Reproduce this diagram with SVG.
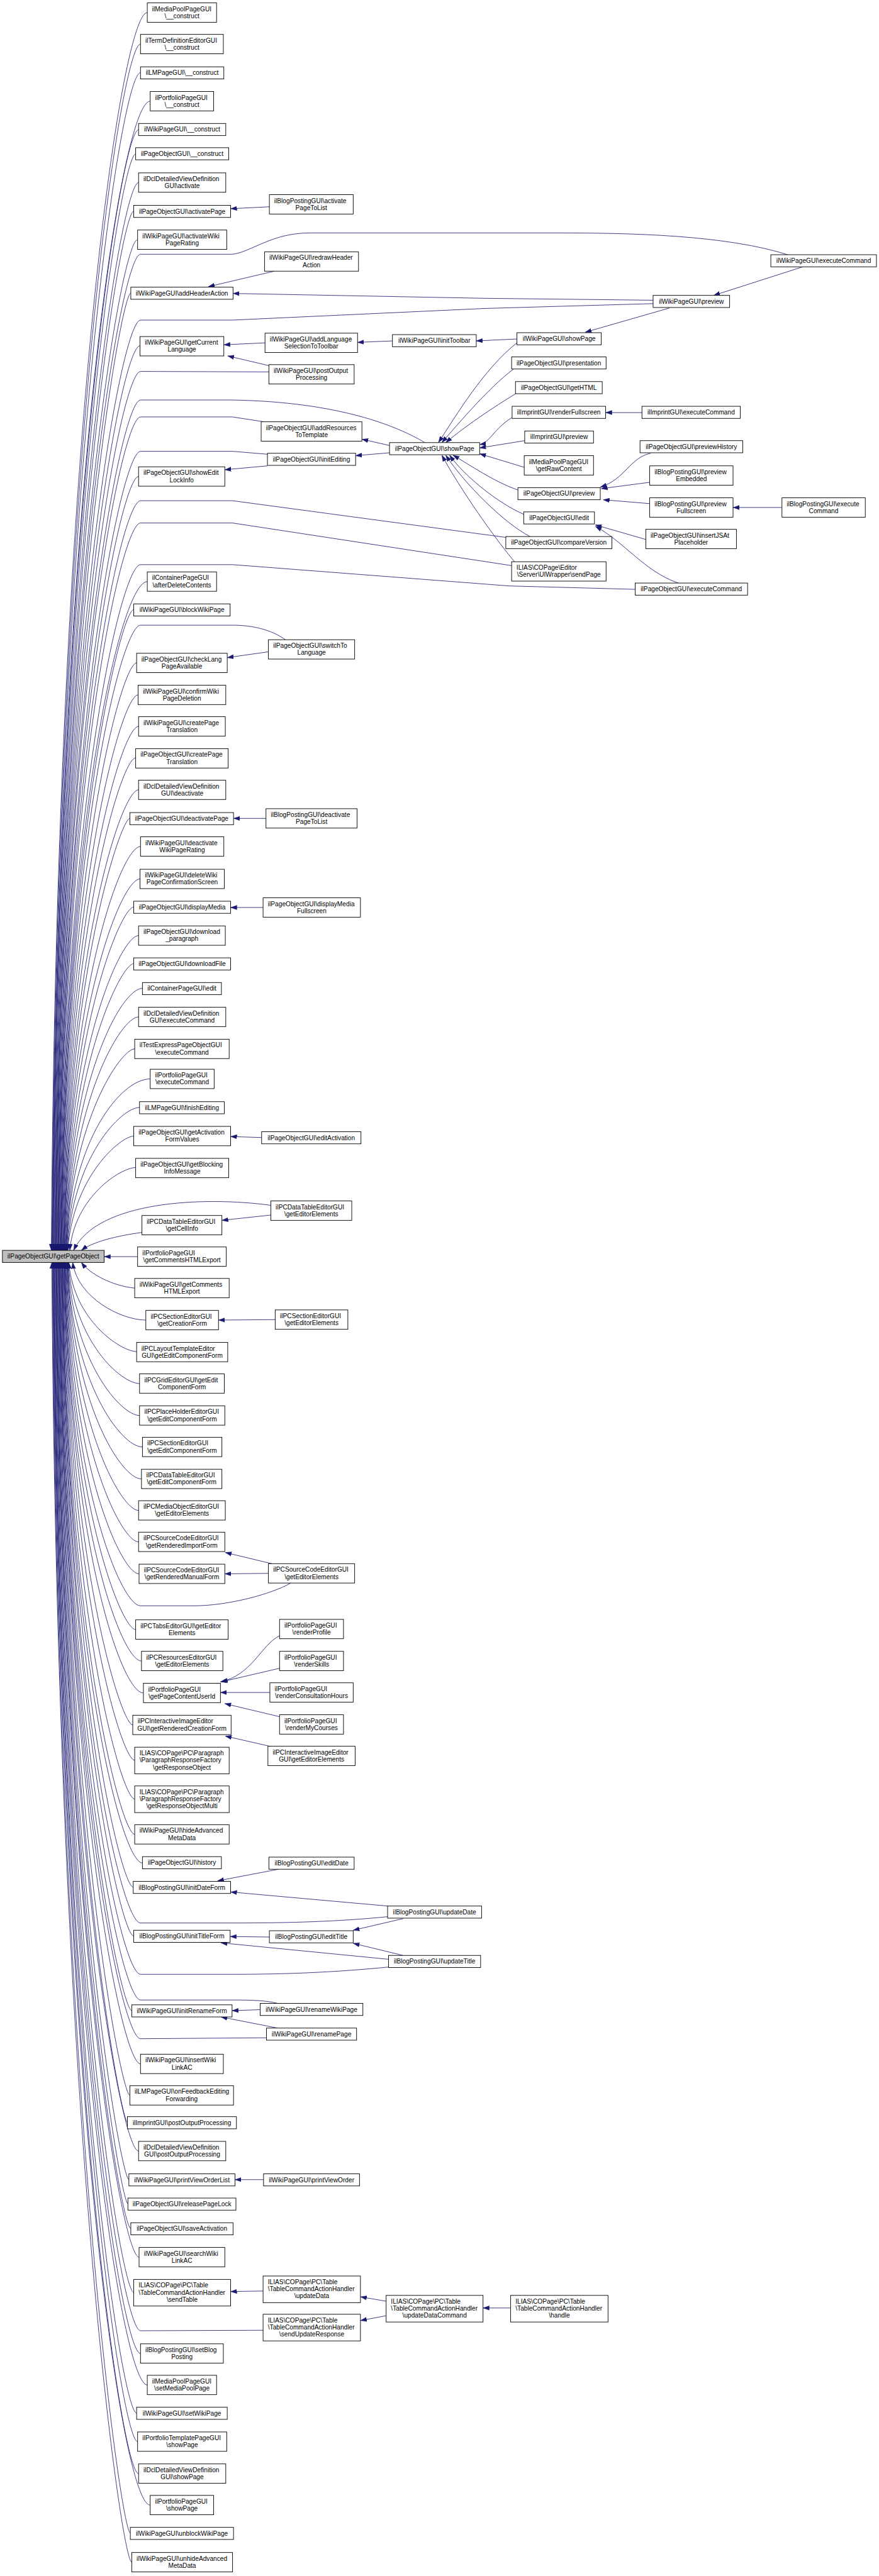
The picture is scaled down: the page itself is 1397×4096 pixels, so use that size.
<svg xmlns="http://www.w3.org/2000/svg" width="1397" height="4096" viewBox="0 0 1397 4096">
<style>
.n rect{fill:#fff;stroke:#000;stroke-width:1.2}
.r rect{fill:#bfbfbf;stroke:#000;stroke-width:1.2}
text{font-family:"Liberation Sans",Arial,Helvetica,sans-serif;font-size:13.2px;fill:#000}
.m{text-anchor:middle}
#edges path{fill:none;stroke:#191970;stroke-width:1.1;marker-end:url(#ah)}
</style>
<defs>
<marker id="ah" markerUnits="userSpaceOnUse" markerWidth="13" markerHeight="10" refX="13" refY="5" orient="auto" viewBox="0 0 13 10"><path d="M0,0.5 L13,5 L0,9.5 z" fill="#191970" stroke="#191970" stroke-width="0.5"/></marker>
</defs>
<rect x="0" y="0" width="1397" height="4096" fill="#fff"/>
<g transform="scale(0.77)">
<g id="edges">
<path d="M304,26 C250,26 116,921 106,2582"/>
<path d="M290,91 C250,91 117,963 107,2582"/>
<path d="M290,150 C250,150 118,1001 108,2582"/>
<path d="M310,209 C250,209 119,1040 109,2582"/>
<path d="M286,268 C250,268 119,1078 109,2582"/>
<path d="M280,318 C250,318 120,1110 110,2582"/>
<path d="M286,377 C250,377 121,1149 111,2582"/>
<path d="M276,436 C250,436 122,1187 112,2582"/>
<path d="M284,495 C250,495 123,1225 113,2582"/>
<path d="M1629,527 C1500,485 1300,481 1150,481 L640,481 C560,481 520,520 480,525 L290,525 C250,525 124,1245 114,2582"/>
<path d="M270,605 C250,605 125,1297 115,2582"/>
<path d="M1348,627 L1000,637 L480,661 L290,661 C250,661 125,1333 115,2582"/>
<path d="M289,714 C250,714 126,1368 116,2582"/>
<path d="M555,768 L290,767 C250,767 127,1402 117,2582"/>
<path d="M877,914 C820,880 700,830 480,826 L290,826 C250,826 128,1441 118,2582"/>
<path d="M545,871 L480,861 L290,861 C250,861 129,1463 119,2582"/>
<path d="M552,938 L480,932 L290,932 C250,932 130,1510 120,2582"/>
<path d="M286,984 C250,984 130,1543 120,2582"/>
<path d="M1046,1110 L480,1034 L290,1034 C250,1034 131,1576 121,2582"/>
<path d="M1056,1168 L480,1080 L290,1080 C250,1080 132,1606 122,2582"/>
<path d="M1311,1217 L1051,1210 L480,1166 L290,1166 C250,1166 133,1662 123,2582"/>
<path d="M304,1201 C250,1201 134,1684 124,2582"/>
<path d="M276,1259 C250,1259 135,1722 125,2582"/>
<path d="M589,1321 C560,1300 520,1291 480,1291 L290,1291 C250,1291 136,1743 126,2582"/>
<path d="M282,1369 C250,1369 136,1794 126,2582"/>
<path d="M285,1435 C250,1435 137,1836 127,2582"/>
<path d="M286,1500 C250,1500 138,1879 128,2582"/>
<path d="M280,1565 C250,1565 139,1921 129,2582"/>
<path d="M286,1631 C250,1631 140,1964 130,2582"/>
<path d="M268,1690 C250,1690 141,2002 131,2582"/>
<path d="M290,1748 C250,1748 142,2040 132,2582"/>
<path d="M289,1815 C250,1815 142,2083 132,2582"/>
<path d="M276,1873 C250,1873 143,2121 133,2582"/>
<path d="M286,1932 C250,1932 144,2160 134,2582"/>
<path d="M276,1990 C250,1990 145,2197 135,2582"/>
<path d="M294,2041 C250,2041 146,2230 136,2582"/>
<path d="M286,2100 C250,2100 147,2269 137,2582"/>
<path d="M278,2166 C250,2166 147,2312 137,2582"/>
<path d="M310,2228 C250,2228 148,2352 138,2582"/>
<path d="M288,2287 C250,2287 149,2390 139,2582"/>
<path d="M276,2346 C250,2346 150,2429 140,2582"/>
<path d="M280,2411 C250,2411 154,2471 144,2582"/>
<path d="M559,2489 C420,2470 200,2480 152,2582"/>
<path d="M293,2545 C240,2552 190,2565 168,2582"/>
<path d="M284,2595 L215,2595"/>
<path d="M278,2660 C230,2655 185,2630 168,2607"/>
<path d="M301,2726 C250,2726 160,2680 150,2607"/>
<path d="M282,2791 C250,2791 152,2727 142,2607"/>
<path d="M288,2857 C250,2857 151,2770 141,2607"/>
<path d="M288,2923 C250,2923 150,2812 140,2607"/>
<path d="M294,2988 C250,2988 149,2855 139,2607"/>
<path d="M292,3054 C250,3054 149,2898 139,2607"/>
<path d="M286,3119 C250,3119 148,2940 138,2607"/>
<path d="M286,3184 C250,3184 147,2982 137,2607"/>
<path d="M287,3250 C250,3250 146,3025 136,2607"/>
<path d="M600,3269 C560,3292 470,3316 400,3316 L290,3316 C250,3316 145,3068 135,2607"/>
<path d="M280,3365 C250,3365 144,3100 134,2607"/>
<path d="M292,3430 C250,3430 143,3142 133,2607"/>
<path d="M296,3496 C250,3496 143,3185 133,2607"/>
<path d="M274,3562 C250,3562 142,3228 132,2607"/>
<path d="M278,3635 C250,3635 141,3275 131,2607"/>
<path d="M278,3715 C250,3715 140,3327 130,2607"/>
<path d="M278,3788 C250,3788 139,3375 129,2607"/>
<path d="M294,3847 C250,3847 138,3413 128,2607"/>
<path d="M275,3897 C250,3897 138,3446 128,2607"/>
<path d="M800,3958 C700,3968 600,3971 480,3971 L290,3971 C250,3971 137,3494 127,2607"/>
<path d="M276,3998 C250,3998 136,3511 126,2607"/>
<path d="M802,4062 C700,4072 600,4077 480,4077 L290,4077 C250,4077 135,3563 125,2607"/>
<path d="M573,4137 C550,4131 520,4130 480,4130 L290,4130 C250,4130 134,3597 124,2607"/>
<path d="M272,4152 C250,4152 133,3611 123,2607"/>
<path d="M550,4208 L290,4210 C250,4210 132,3649 122,2607"/>
<path d="M290,4262 C250,4262 132,3683 122,2607"/>
<path d="M268,4327 C250,4327 131,3725 121,2607"/>
<path d="M263,4383 C250,4383 130,3761 120,2607"/>
<path d="M286,4442 C250,4442 129,3800 119,2607"/>
<path d="M266,4501 C250,4501 128,3838 118,2607"/>
<path d="M264,4551 C250,4551 127,3871 117,2607"/>
<path d="M270,4602 C250,4602 126,3904 116,2607"/>
<path d="M287,4661 C250,4661 126,3942 116,2607"/>
<path d="M276,4734 C250,4734 125,3990 115,2607"/>
<path d="M543,4812 L290,4813 C250,4813 124,4041 114,2607"/>
<path d="M290,4860 C250,4860 123,4071 113,2607"/>
<path d="M304,4925 C250,4925 122,4114 112,2607"/>
<path d="M282,4983 C250,4983 121,4151 111,2607"/>
<path d="M284,5042 C250,5042 121,4190 111,2607"/>
<path d="M286,5108 C250,5108 120,4233 110,2607"/>
<path d="M310,5173 C250,5173 119,4275 109,2607"/>
<path d="M269,5231 C250,5231 118,4313 108,2607"/>
<path d="M272,5291 C250,5291 117,4352 107,2607"/>
<path d="M556,427 L476,431"/>
<path d="M566,560 L430,592"/>
<path d="M1348,620 L1000,616 L481,606"/>
<path d="M547,708 L462,712"/>
<path d="M555,755 L470,735"/>
<path d="M810,704 L738,707"/>
<path d="M1067,700 L983,704"/>
<path d="M1382,636 L1208,686"/>
<path d="M1657,551 L1473,610"/>
<path d="M1325,852 L1250,852"/>
<path d="M1343,936 C1300,945 1290,990 1239,1006"/>
<path d="M1341,996 L1241,1009"/>
<path d="M1341,1040 L1245,1032"/>
<path d="M1614,1048 L1513,1048"/>
<path d="M1333,1114 L1229,1084"/>
<path d="M1400,1204 C1330,1180 1290,1120 1229,1087"/>
<path d="M804,920 L747,907"/>
<path d="M804,935 L734,941"/>
<path d="M552,962 L464,970"/>
<path d="M554,1346 L469,1358"/>
<path d="M549,1690 L482,1690"/>
<path d="M543,1874 L476,1874"/>
<path d="M540,2349 L476,2347"/>
<path d="M560,2509 L458,2520"/>
<path d="M568,2725 L451,2726"/>
<path d="M561,3229 L465,3206"/>
<path d="M554,3249 L464,3250"/>
<path d="M577,3378 C540,3395 520,3460 455,3473"/>
<path d="M577,3445 L457,3473"/>
<path d="M557,3495 L455,3495"/>
<path d="M577,3545 L464,3518"/>
<path d="M561,3607 L465,3585"/>
<path d="M575,3860 L449,3884"/>
<path d="M800,3936 L476,3907"/>
<path d="M832,3962 L729,3986"/>
<path d="M556,4000 L475,3999"/>
<path d="M832,4038 L729,4013"/>
<path d="M802,4046 L456,4012"/>
<path d="M537,4150 L479,4152"/>
<path d="M573,4188 L456,4165"/>
<path d="M544,4501 L485,4501"/>
<path d="M543,4731 L476,4732"/>
<path d="M797,4752 L744,4743"/>
<path d="M797,4782 L744,4792"/>
<path d="M1054,4766 L997,4766"/>
<path d="M1067,708 C1000,760 940,860 905,914"/>
<path d="M1060,762 C1010,800 950,870 912,914"/>
<path d="M1066,812 C1020,840 960,880 920,914"/>
<path d="M1057,862 C1020,885 1010,915 990,918"/>
<path d="M1083,910 L990,925"/>
<path d="M1082,965 L990,937"/>
<path d="M1069,1012 C1020,995 970,960 935,940"/>
<path d="M1081,1062 C1030,1040 960,985 928,940"/>
<path d="M1094,1108 C1040,1080 960,1000 920,940"/>
<path d="M1062,1160 C1020,1110 950,1010 912,940"/>
</g>
<g id="root" class="r"><rect x="5" y="2582" width="210" height="25"/><text class="m" x="110" y="2599">ilPageObjectGUI\getPageObject</text></g>
<g id="n1" class="n"><rect x="304" y="6" width="143" height="40"/><text x="314" y="23">ilMediaPoolPageGUI</text><text class="m" x="375.5" y="37.5">\__construct</text></g>
<g id="n2" class="n"><rect x="290" y="71" width="171" height="40"/><text x="300" y="88">ilTermDefinitionEditorGUI</text><text class="m" x="375.5" y="102.5">\__construct</text></g>
<g id="n3" class="n"><rect x="290" y="138" width="172" height="25"/><text class="m" x="376" y="155">ilLMPageGUI\__construct</text></g>
<g id="n4" class="n"><rect x="310" y="189" width="131" height="40"/><text x="320" y="206">ilPortfolioPageGUI</text><text class="m" x="375.5" y="220.5">\__construct</text></g>
<g id="n5" class="n"><rect x="286" y="255" width="180" height="25"/><text class="m" x="376" y="272">ilWikiPageGUI\__construct</text></g>
<g id="n6" class="n"><rect x="280" y="305" width="192" height="25"/><text class="m" x="376" y="322">ilPageObjectGUI\__construct</text></g>
<g id="n7" class="n"><rect x="286" y="357" width="180" height="40"/><text x="296" y="374">ilDclDetailedViewDefinition</text><text class="m" x="376" y="388.5">GUI\activate</text></g>
<g id="n8" class="n"><rect x="276" y="424" width="200" height="25"/><text class="m" x="376" y="441">ilPageObjectGUI\activatePage</text></g>
<g id="n9" class="n"><rect x="284" y="475" width="184" height="40"/><text x="294" y="492">ilWikiPageGUI\activateWiki</text><text class="m" x="376" y="506.5">PageRating</text></g>
<g id="n10" class="n"><rect x="270" y="593" width="211" height="25"/><text class="m" x="375.5" y="610">ilWikiPageGUI\addHeaderAction</text></g>
<g id="n11" class="n"><rect x="289" y="695" width="173" height="40"/><text x="299" y="712">ilWikiPageGUI\getCurrent</text><text class="m" x="375.5" y="726.5">Language</text></g>
<g id="n12" class="n"><rect x="286" y="964" width="178" height="40"/><text x="296" y="981">ilPageObjectGUI\showEdit</text><text class="m" x="375" y="995.5">LockInfo</text></g>
<g id="n13" class="n"><rect x="304" y="1181" width="143" height="40"/><text x="314" y="1198">ilContainerPageGUI</text><text class="m" x="375.5" y="1212.5">\afterDeleteContents</text></g>
<g id="n14" class="n"><rect x="276" y="1247" width="199" height="25"/><text class="m" x="375.5" y="1264">ilWikiPageGUI\blockWikiPage</text></g>
<g id="n15" class="n"><rect x="282" y="1349" width="187" height="40"/><text x="292" y="1366">ilPageObjectGUI\checkLang</text><text class="m" x="375.5" y="1380.5">PageAvailable</text></g>
<g id="n16" class="n"><rect x="285" y="1415" width="181" height="40"/><text x="295" y="1432">ilWikiPageGUI\confirmWiki</text><text class="m" x="375.5" y="1446.5">PageDeletion</text></g>
<g id="n17" class="n"><rect x="286" y="1480" width="179" height="40"/><text x="296" y="1497">ilWikiPageGUI\createPage</text><text class="m" x="375.5" y="1511.5">Translation</text></g>
<g id="n18" class="n"><rect x="280" y="1546" width="191" height="40"/><text x="290" y="1563">ilPageObjectGUI\createPage</text><text class="m" x="375.5" y="1577.5">Translation</text></g>
<g id="n19" class="n"><rect x="286" y="1611" width="180" height="40"/><text x="296" y="1628">ilDclDetailedViewDefinition</text><text class="m" x="376" y="1642.5">GUI\deactivate</text></g>
<g id="n20" class="n"><rect x="268" y="1678" width="214" height="25"/><text class="m" x="375" y="1695">ilPageObjectGUI\deactivatePage</text></g>
<g id="n21" class="n"><rect x="290" y="1728" width="172" height="40"/><text x="300" y="1745">ilWikiPageGUI\deactivate</text><text class="m" x="376" y="1759.5">WikiPageRating</text></g>
<g id="n22" class="n"><rect x="289" y="1795" width="174" height="40"/><text x="299" y="1812">ilWikiPageGUI\deleteWiki</text><text class="m" x="376" y="1826.5">PageConfirmationScreen</text></g>
<g id="n23" class="n"><rect x="276" y="1861" width="200" height="25"/><text class="m" x="376" y="1878">ilPageObjectGUI\displayMedia</text></g>
<g id="n24" class="n"><rect x="286" y="1912" width="179" height="40"/><text x="296" y="1929">ilPageObjectGUI\download</text><text class="m" x="375.5" y="1943.5">_paragraph</text></g>
<g id="n25" class="n"><rect x="276" y="1978" width="200" height="25"/><text class="m" x="376" y="1995">ilPageObjectGUI\downloadFile</text></g>
<g id="n26" class="n"><rect x="294" y="2029" width="163" height="25"/><text class="m" x="375.5" y="2046">ilContainerPageGUI\edit</text></g>
<g id="n27" class="n"><rect x="286" y="2080" width="180" height="40"/><text x="296" y="2097">ilDclDetailedViewDefinition</text><text class="m" x="376" y="2111.5">GUI\executeCommand</text></g>
<g id="n28" class="n"><rect x="278" y="2146" width="195" height="40"/><text x="288" y="2163">ilTestExpressPageObjectGUI</text><text class="m" x="375.5" y="2177.5">\executeCommand</text></g>
<g id="n29" class="n"><rect x="310" y="2208" width="132" height="40"/><text x="320" y="2225">ilPortfolioPageGUI</text><text class="m" x="376" y="2239.5">\executeCommand</text></g>
<g id="n30" class="n"><rect x="288" y="2275" width="175" height="25"/><text class="m" x="375.5" y="2292">ilLMPageGUI\finishEditing</text></g>
<g id="n31" class="n"><rect x="276" y="2326" width="200" height="40"/><text x="286" y="2343">ilPageObjectGUI\getActivation</text><text class="m" x="376" y="2357.5">FormValues</text></g>
<g id="n32" class="n"><rect x="280" y="2392" width="192" height="40"/><text x="290" y="2409">ilPageObjectGUI\getBlocking</text><text class="m" x="376" y="2423.5">InfoMessage</text></g>
<g id="n33" class="n"><rect x="293" y="2510" width="165" height="40"/><text x="303" y="2527">ilPCDataTableEditorGUI</text><text class="m" x="375.5" y="2541.5">\getCellInfo</text></g>
<g id="n34" class="n"><rect x="284" y="2575" width="183" height="40"/><text x="294" y="2592">ilPortfolioPageGUI</text><text class="m" x="375.5" y="2606.5">\getCommentsHTMLExport</text></g>
<g id="n35" class="n"><rect x="278" y="2640" width="195" height="40"/><text x="288" y="2657">ilWikiPageGUI\getComments</text><text class="m" x="375.5" y="2671.5">HTMLExport</text></g>
<g id="n36" class="n"><rect x="301" y="2706" width="150" height="40"/><text x="311" y="2723">ilPCSectionEditorGUI</text><text class="m" x="376" y="2737.5">\getCreationForm</text></g>
<g id="n37" class="n"><rect x="282" y="2772" width="188" height="40"/><text x="292" y="2789">ilPCLayoutTemplateEditor</text><text class="m" x="376" y="2803.5">GUI\getEditComponentForm</text></g>
<g id="n38" class="n"><rect x="288" y="2837" width="175" height="40"/><text x="298" y="2854">ilPCGridEditorGUI\getEdit</text><text class="m" x="375.5" y="2868.5">ComponentForm</text></g>
<g id="n39" class="n"><rect x="288" y="2903" width="176" height="40"/><text x="298" y="2920">ilPCPlaceHolderEditorGUI</text><text class="m" x="376" y="2934.5">\getEditComponentForm</text></g>
<g id="n40" class="n"><rect x="294" y="2968" width="164" height="40"/><text x="304" y="2985">ilPCSectionEditorGUI</text><text class="m" x="376" y="2999.5">\getEditComponentForm</text></g>
<g id="n41" class="n"><rect x="292" y="3034" width="166" height="40"/><text x="302" y="3051">ilPCDataTableEditorGUI</text><text class="m" x="375" y="3065.5">\getEditComponentForm</text></g>
<g id="n42" class="n"><rect x="286" y="3099" width="179" height="40"/><text x="296" y="3116">ilPCMediaObjectEditorGUI</text><text class="m" x="375.5" y="3130.5">\getEditorElements</text></g>
<g id="n43" class="n"><rect x="286" y="3164" width="178" height="40"/><text x="296" y="3181">ilPCSourceCodeEditorGUI</text><text class="m" x="375" y="3195.5">\getRenderedImportForm</text></g>
<g id="n44" class="n"><rect x="287" y="3230" width="177" height="40"/><text x="297" y="3247">ilPCSourceCodeEditorGUI</text><text class="m" x="375.5" y="3261.5">\getRenderedManualForm</text></g>
<g id="n45" class="n"><rect x="280" y="3345" width="191" height="40"/><text x="290" y="3362">ilPCTabsEditorGUI\getEditor</text><text class="m" x="375.5" y="3376.5">Elements</text></g>
<g id="n46" class="n"><rect x="292" y="3410" width="168" height="40"/><text x="302" y="3427">ilPCResourcesEditorGUI</text><text class="m" x="376" y="3441.5">\getEditorElements</text></g>
<g id="n47" class="n"><rect x="296" y="3476" width="159" height="40"/><text x="306" y="3493">ilPortfolioPageGUI</text><text class="m" x="375.5" y="3507.5">\getPageContentUserId</text></g>
<g id="n48" class="n"><rect x="274" y="3542" width="203" height="40"/><text x="284" y="3559">ilPCInteractiveImageEditor</text><text class="m" x="375.5" y="3573.5">GUI\getRenderedCreationForm</text></g>
<g id="n49" class="n"><rect x="278" y="3608" width="195" height="55"/><text x="288" y="3625">ILIAS\COPage\PC\Paragraph</text><text x="288" y="3639.5">\ParagraphResponseFactory</text><text class="m" x="375.5" y="3654">\getResponseObject</text></g>
<g id="n50" class="n"><rect x="278" y="3688" width="195" height="55"/><text x="288" y="3705">ILIAS\COPage\PC\Paragraph</text><text x="288" y="3719.5">\ParagraphResponseFactory</text><text class="m" x="375.5" y="3734">\getResponseObjectMulti</text></g>
<g id="n51" class="n"><rect x="278" y="3768" width="195" height="40"/><text x="288" y="3785">ilWikiPageGUI\hideAdvanced</text><text class="m" x="375.5" y="3799.5">MetaData</text></g>
<g id="n52" class="n"><rect x="294" y="3834" width="163" height="25"/><text class="m" x="375.5" y="3851">ilPageObjectGUI\history</text></g>
<g id="n53" class="n"><rect x="275" y="3885" width="201" height="25"/><text class="m" x="375.5" y="3902">ilBlogPostingGUI\initDateForm</text></g>
<g id="n54" class="n"><rect x="276" y="3986" width="199" height="25"/><text class="m" x="375.5" y="4003">ilBlogPostingGUI\initTitleForm</text></g>
<g id="n55" class="n"><rect x="272" y="4140" width="207" height="25"/><text class="m" x="375.5" y="4157">ilWikiPageGUI\initRenameForm</text></g>
<g id="n56" class="n"><rect x="290" y="4242" width="171" height="40"/><text x="300" y="4259">ilWikiPageGUI\insertWiki</text><text class="m" x="375.5" y="4273.5">LinkAC</text></g>
<g id="n57" class="n"><rect x="268" y="4307" width="214" height="40"/><text x="278" y="4324">ilLMPageGUI\onFeedbackEditing</text><text class="m" x="375" y="4338.5">Forwarding</text></g>
<g id="n58" class="n"><rect x="263" y="4371" width="225" height="25"/><text class="m" x="375.5" y="4388">ilImprintGUI\postOutputProcessing</text></g>
<g id="n59" class="n"><rect x="286" y="4422" width="180" height="40"/><text x="296" y="4439">ilDclDetailedViewDefinition</text><text class="m" x="376" y="4453.5">GUI\postOutputProcessing</text></g>
<g id="n60" class="n"><rect x="266" y="4489" width="219" height="25"/><text class="m" x="375.5" y="4506">ilWikiPageGUI\printViewOrderList</text></g>
<g id="n61" class="n"><rect x="264" y="4539" width="223" height="25"/><text class="m" x="375.5" y="4556">ilPageObjectGUI\releasePageLock</text></g>
<g id="n62" class="n"><rect x="270" y="4590" width="211" height="25"/><text class="m" x="375.5" y="4607">ilPageObjectGUI\saveActivation</text></g>
<g id="n63" class="n"><rect x="287" y="4641" width="177" height="40"/><text x="297" y="4658">ilWikiPageGUI\searchWiki</text><text class="m" x="375.5" y="4672.5">LinkAC</text></g>
<g id="n64" class="n"><rect x="276" y="4707" width="200" height="55"/><text x="286" y="4724">ILIAS\COPage\PC\Table</text><text x="286" y="4738.5">\TableCommandActionHandler</text><text class="m" x="376" y="4753">\sendTable</text></g>
<g id="n65" class="n"><rect x="290" y="4840" width="171" height="40"/><text x="300" y="4857">ilBlogPostingGUI\setBlog</text><text class="m" x="375.5" y="4871.5">Posting</text></g>
<g id="n66" class="n"><rect x="304" y="4905" width="143" height="40"/><text x="314" y="4922">ilMediaPoolPageGUI</text><text class="m" x="375.5" y="4936.5">\setMediaPoolPage</text></g>
<g id="n67" class="n"><rect x="282" y="4971" width="187" height="25"/><text class="m" x="375.5" y="4988">ilWikiPageGUI\setWikiPage</text></g>
<g id="n68" class="n"><rect x="284" y="5022" width="184" height="40"/><text x="294" y="5039">ilPortfolioTemplatePageGUI</text><text class="m" x="376" y="5053.5">\showPage</text></g>
<g id="n69" class="n"><rect x="286" y="5088" width="180" height="40"/><text x="296" y="5105">ilDclDetailedViewDefinition</text><text class="m" x="376" y="5119.5">GUI\showPage</text></g>
<g id="n70" class="n"><rect x="310" y="5153" width="131" height="40"/><text x="320" y="5170">ilPortfolioPageGUI</text><text class="m" x="375.5" y="5184.5">\showPage</text></g>
<g id="n71" class="n"><rect x="269" y="5219" width="213" height="25"/><text class="m" x="375.5" y="5236">ilWikiPageGUI\unblockWikiPage</text></g>
<g id="n72" class="n"><rect x="272" y="5271" width="208" height="40"/><text x="282" y="5288">ilWikiPageGUI\unhideAdvanced</text><text class="m" x="376" y="5302.5">MetaData</text></g>
<g id="c2a" class="n"><rect x="556" y="402" width="173" height="40"/><text x="566" y="419">ilBlogPostingGUI\activate</text><text class="m" x="642.5" y="433.5">PageToList</text></g>
<g id="c2b" class="n"><rect x="546" y="520" width="194" height="40"/><text x="556" y="537">ilWikiPageGUI\redrawHeader</text><text class="m" x="643" y="551.5">Action</text></g>
<g id="c2c" class="n"><rect x="547" y="688" width="191" height="40"/><text x="557" y="705">ilWikiPageGUI\addLanguage</text><text class="m" x="642.5" y="719.5">SelectionToToolbar</text></g>
<g id="c2d" class="n"><rect x="555" y="753" width="176" height="40"/><text x="565" y="770">ilWikiPageGUI\postOutput</text><text class="m" x="643" y="784.5">Processing</text></g>
<g id="c2e" class="n"><rect x="539" y="871" width="208" height="40"/><text x="549" y="888">ilPageObjectGUI\addResources</text><text class="m" x="643" y="902.5">ToTemplate</text></g>
<g id="c2f" class="n"><rect x="552" y="936" width="182" height="25"/><text class="m" x="643" y="953">ilPageObjectGUI\initEditing</text></g>
<g id="c2g" class="n"><rect x="554" y="1321" width="178" height="40"/><text x="564" y="1338">ilPageObjectGUI\switchTo</text><text class="m" x="643" y="1352.5">Language</text></g>
<g id="c2h" class="n"><rect x="549" y="1670" width="188" height="40"/><text x="559" y="1687">ilBlogPostingGUI\deactivate</text><text class="m" x="643" y="1701.5">PageToList</text></g>
<g id="c2i" class="n"><rect x="543" y="1854" width="201" height="40"/><text x="553" y="1871">ilPageObjectGUI\displayMedia</text><text class="m" x="643.5" y="1885.5">Fullscreen</text></g>
<g id="c2j" class="n"><rect x="540" y="2337" width="205" height="25"/><text class="m" x="642.5" y="2354">ilPageObjectGUI\editActivation</text></g>
<g id="c2k" class="n"><rect x="559" y="2480" width="167" height="40"/><text x="569" y="2497">ilPCDataTableEditorGUI</text><text class="m" x="642.5" y="2511.5">\getEditorElements</text></g>
<g id="c2l" class="n"><rect x="568" y="2705" width="150" height="40"/><text x="578" y="2722">ilPCSectionEditorGUI</text><text class="m" x="643" y="2736.5">\getEditorElements</text></g>
<g id="c2m" class="n"><rect x="554" y="3229" width="178" height="40"/><text x="564" y="3246">ilPCSourceCodeEditorGUI</text><text class="m" x="643" y="3260.5">\getEditorElements</text></g>
<g id="c2n" class="n"><rect x="577" y="3344" width="132" height="40"/><text x="587" y="3361">ilPortfolioPageGUI</text><text class="m" x="643" y="3375.5">\renderProfile</text></g>
<g id="c2o" class="n"><rect x="577" y="3410" width="132" height="40"/><text x="587" y="3427">ilPortfolioPageGUI</text><text class="m" x="643" y="3441.5">\renderSkills</text></g>
<g id="c2p" class="n"><rect x="557" y="3475" width="172" height="40"/><text x="567" y="3492">ilPortfolioPageGUI</text><text class="m" x="643" y="3506.5">\renderConsultationHours</text></g>
<g id="c2q" class="n"><rect x="577" y="3541" width="132" height="40"/><text x="587" y="3558">ilPortfolioPageGUI</text><text class="m" x="643" y="3572.5">\renderMyCourses</text></g>
<g id="c2r" class="n"><rect x="553" y="3606" width="180" height="40"/><text x="563" y="3623">ilPCInteractiveImageEditor</text><text class="m" x="643" y="3637.5">GUI\getEditorElements</text></g>
<g id="c2s" class="n"><rect x="555" y="3835" width="176" height="25"/><text class="m" x="643" y="3852">ilBlogPostingGUI\editDate</text></g>
<g id="c2t" class="n"><rect x="556" y="3987" width="173" height="25"/><text class="m" x="642.5" y="4004">ilBlogPostingGUI\editTitle</text></g>
<g id="c2u" class="n"><rect x="537" y="4137" width="212" height="25"/><text class="m" x="643" y="4154">ilWikiPageGUI\renameWikiPage</text></g>
<g id="c2v" class="n"><rect x="550" y="4188" width="186" height="25"/><text class="m" x="643" y="4205">ilWikiPageGUI\renamePage</text></g>
<g id="c2w" class="n"><rect x="544" y="4489" width="198" height="25"/><text class="m" x="643" y="4506">ilWikiPageGUI\printViewOrder</text></g>
<g id="c2x" class="n"><rect x="543" y="4700" width="201" height="55"/><text x="553" y="4717">ILIAS\COPage\PC\Table</text><text x="553" y="4731.5">\TableCommandActionHandler</text><text class="m" x="643.5" y="4746">\updateData</text></g>
<g id="c2y" class="n"><rect x="543" y="4779" width="201" height="55"/><text x="553" y="4796">ILIAS\COPage\PC\Table</text><text x="553" y="4810.5">\TableCommandActionHandler</text><text class="m" x="643.5" y="4825">\sendUpdateResponse</text></g>
<g id="c3a" class="n"><rect x="810" y="691" width="173" height="25"/><text class="m" x="896.5" y="708">ilWikiPageGUI\initToolbar</text></g>
<g id="c3b" class="n"><rect x="804" y="914" width="186" height="25"/><text class="m" x="897" y="931">ilPageObjectGUI\showPage</text></g>
<g id="c3c" class="n"><rect x="800" y="3936" width="194" height="25"/><text class="m" x="897" y="3953">ilBlogPostingGUI\updateDate</text></g>
<g id="c3d" class="n"><rect x="802" y="4038" width="190" height="25"/><text class="m" x="897" y="4055">ilBlogPostingGUI\updateTitle</text></g>
<g id="c3e" class="n"><rect x="797" y="4740" width="200" height="55"/><text x="807" y="4757">ILIAS\COPage\PC\Table</text><text x="807" y="4771.5">\TableCommandActionHandler</text><text class="m" x="897" y="4786">\updateDataCommand</text></g>
<g id="c4a" class="n"><rect x="1067" y="687" width="174" height="25"/><text class="m" x="1154" y="704">ilWikiPageGUI\showPage</text></g>
<g id="c4b" class="n"><rect x="1056" y="737" width="195" height="25"/><text class="m" x="1153.5" y="754">ilPageObjectGUI\presentation</text></g>
<g id="c4c" class="n"><rect x="1064" y="788" width="179" height="25"/><text class="m" x="1153.5" y="805">ilPageObjectGUI\getHTML</text></g>
<g id="c4d" class="n"><rect x="1057" y="839" width="193" height="25"/><text class="m" x="1153.5" y="856">ilImprintGUI\renderFullscreen</text></g>
<g id="c4e" class="n"><rect x="1083" y="890" width="142" height="25"/><text class="m" x="1154" y="907">ilImprintGUI\preview</text></g>
<g id="c4f" class="n"><rect x="1082" y="941" width="143" height="40"/><text x="1092" y="958">ilMediaPoolPageGUI</text><text class="m" x="1153.5" y="972.5">\getRawContent</text></g>
<g id="c4g" class="n"><rect x="1069" y="1007" width="170" height="25"/><text class="m" x="1154" y="1024">ilPageObjectGUI\preview</text></g>
<g id="c4h" class="n"><rect x="1081" y="1057" width="146" height="25"/><text class="m" x="1154" y="1074">ilPageObjectGUI\edit</text></g>
<g id="c4i" class="n"><rect x="1044" y="1108" width="219" height="25"/><text class="m" x="1153.5" y="1125">ilPageObjectGUI\compareVersion</text></g>
<g id="c4j" class="n"><rect x="1056" y="1160" width="195" height="40"/><text x="1066" y="1177">ILIAS\COPage\Editor</text><text class="m" x="1153.5" y="1191.5">\Server\UIWrapper\sendPage</text></g>
<g id="c4k" class="n"><rect x="1054" y="4740" width="201" height="55"/><text x="1064" y="4757">ILIAS\COPage\PC\Table</text><text x="1064" y="4771.5">\TableCommandActionHandler</text><text class="m" x="1154.5" y="4786">\handle</text></g>
<g id="c5a" class="n"><rect x="1348" y="610" width="158" height="25"/><text class="m" x="1427" y="627">ilWikiPageGUI\preview</text></g>
<g id="c5b" class="n"><rect x="1325" y="839" width="203" height="25"/><text class="m" x="1426.5" y="856">ilImprintGUI\executeCommand</text></g>
<g id="c5c" class="n"><rect x="1321" y="910" width="212" height="25"/><text class="m" x="1427" y="927">ilPageObjectGUI\previewHistory</text></g>
<g id="c5d" class="n"><rect x="1341" y="962" width="172" height="40"/><text x="1351" y="979">ilBlogPostingGUI\preview</text><text class="m" x="1427" y="993.5">Embedded</text></g>
<g id="c5e" class="n"><rect x="1341" y="1028" width="172" height="40"/><text x="1351" y="1045">ilBlogPostingGUI\preview</text><text class="m" x="1427" y="1059.5">Fullscreen</text></g>
<g id="c5f" class="n"><rect x="1333" y="1093" width="187" height="40"/><text x="1343" y="1110">ilPageObjectGUI\insertJSAt</text><text class="m" x="1426.5" y="1124.5">Placeholder</text></g>
<g id="c5g" class="n"><rect x="1311" y="1204" width="232" height="25"/><text class="m" x="1427" y="1221">ilPageObjectGUI\executeCommand</text></g>
<g id="c6a" class="n"><rect x="1591" y="526" width="218" height="25"/><text class="m" x="1700" y="543">ilWikiPageGUI\executeCommand</text></g>
<g id="c6b" class="n"><rect x="1614" y="1028" width="172" height="40"/><text x="1624" y="1045">ilBlogPostingGUI\execute</text><text class="m" x="1700" y="1059.5">Command</text></g>
</g>
</svg>
